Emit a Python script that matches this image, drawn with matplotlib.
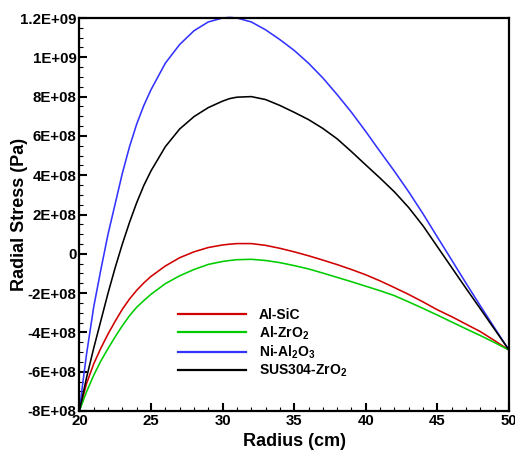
import matplotlib
matplotlib.use("Agg")
import matplotlib.pyplot as plt
from matplotlib.ticker import MultipleLocator

plt.rcParams['font.family'] = ['Liberation Sans', 'DejaVu Sans']
plt.rcParams['font.weight'] = 'bold'
plt.rcParams['mathtext.fontset'] = 'custom'
plt.rcParams['mathtext.rm'] = 'Liberation Sans:bold'
plt.rcParams['mathtext.it'] = 'Liberation Sans:bold'
plt.rcParams['mathtext.bf'] = 'Liberation Sans:bold'

# Radius (cm)
radius = [20, 20.25, 20.5, 21, 21.5, 22, 22.5, 23, 23.5, 24, 24.5, 25, 26, 27, 28, 29, 30,
          30.5, 31, 32, 33, 34, 35, 36, 37, 38, 39, 40, 41, 42, 43, 44, 45, 46, 47, 48, 49, 50]

al_sic = [-8.0e8, -7.3e8, -6.6e8, -5.6e8, -4.8e8, -4.08e8, -3.43e8, -2.82e8, -2.3e8, -1.86e8,
          -1.48e8, -1.15e8, -6.2e7, -2.0e7, 1.0e7, 3.2e7, 4.5e7, 4.9e7, 5.2e7, 5.2e7, 4.3e7,
          2.8e7, 1.0e7, -1.0e7, -3.2e7, -5.5e7, -8.0e7, -1.07e8, -1.38e8, -1.72e8, -2.07e8,
          -2.45e8, -2.85e8, -3.2e8, -3.58e8, -3.96e8, -4.42e8, -4.9e8]

al_zro2 = [-8.0e8, -7.5e8, -7.02e8, -6.18e8, -5.45e8, -4.82e8, -4.22e8, -3.66e8, -3.15e8, -2.72e8,
           -2.38e8, -2.06e8, -1.52e8, -1.12e8, -8.0e7, -5.4e7, -3.9e7, -3.4e7, -3.0e7, -2.8e7,
           -3.4e7, -4.5e7, -6.0e7, -7.7e7, -9.8e7, -1.2e8, -1.42e8, -1.65e8, -1.88e8, -2.13e8,
           -2.45e8, -2.78e8, -3.12e8, -3.47e8, -3.82e8, -4.16e8, -4.52e8, -4.9e8]

ni_al2o3 = [-8.0e8, -6.5e8, -5.1e8, -2.7e8, -8.0e7, 1.0e8, 2.55e8, 4.1e8, 5.45e8, 6.6e8,
            7.55e8, 8.35e8, 9.7e8, 1.065e9, 1.135e9, 1.18e9, 1.2e9, 1.203e9, 1.2e9, 1.18e9,
            1.14e9, 1.09e9, 1.035e9, 9.7e8, 8.95e8, 8.1e8, 7.2e8, 6.22e8, 5.2e8, 4.2e8,
            3.15e8, 2.03e8, 8.5e7, -3.2e7, -1.5e8, -2.65e8, -3.78e8, -4.9e8]

sus304_zro2 = [-8.0e8, -7.15e8, -6.3e8, -4.8e8, -3.4e8, -2.0e8, -7.0e7, 5.0e7, 1.6e8, 2.6e8,
               3.48e8, 4.22e8, 5.45e8, 6.35e8, 6.98e8, 7.44e8, 7.77e8, 7.9e8, 7.97e8, 8.0e8,
               7.85e8, 7.55e8, 7.2e8, 6.83e8, 6.38e8, 5.85e8, 5.2e8, 4.52e8, 3.85e8, 3.15e8,
               2.35e8, 1.42e8, 3.6e7, -7.0e7, -1.76e8, -2.8e8, -3.85e8, -4.9e8]

series_labels = ['Al-SiC', r'Al-ZrO$_2$', r'Ni-Al$_2$O$_3$', r'SUS304-ZrO$_2$']
series_colors = ['#d00000', '#00cc00', '#3333ff', '#000000']

xticks = [20, 25, 30, 35, 40, 45, 50]
yticks = [-8e8, -6e8, -4e8, -2e8, 0, 2e8, 4e8, 6e8, 8e8, 1e9, 1.2e9]
ytick_labels = ['-8E+08', '-6E+08', '-4E+08', '-2E+08', '0', '2E+08', '4E+08',
                '6E+08', '8E+08', '1E+09', '1.2E+09']

fig = plt.figure(figsize=(5.15, 4.54), dpi=100)
ax = fig.add_axes([79.4 / 515, 43 / 454, 429.6 / 515, 393 / 454])

for ys, lab, col in zip([al_sic, al_zro2, ni_al2o3, sus304_zro2], series_labels, series_colors):
    ax.plot(radius, ys, color=col, lw=1.15, label=lab, clip_on=False)

ax.set_xlim(20, 50)
ax.set_ylim(-8e8, 1.2e9)
ax.set_xticks(xticks)
ax.set_xticklabels([str(t) for t in xticks])
ax.set_yticks(yticks)
ax.set_yticklabels(ytick_labels)
ax.xaxis.set_minor_locator(MultipleLocator(1))
ax.yaxis.set_minor_locator(MultipleLocator(5e7))

ax.tick_params(which='major', direction='in', length=6, width=1.5, labelsize=10.8, pad=2,
               top=False, right=False)
ax.tick_params(which='minor', direction='in', length=3, width=0.8, top=False, right=False)
ax.tick_params(axis='x', which='major', pad=2.5)
for lbl in ax.get_xticklabels() + ax.get_yticklabels():
    lbl.set_fontweight('bold')

for sp in ax.spines.values():
    sp.set_linewidth(1.6)

ax.set_xlabel('Radius (cm)', fontsize=13, fontweight='bold')
ax.set_ylabel('Radial Stress (Pa)', fontsize=13, fontweight='bold')
ax.xaxis.set_label_coords(0.5, -0.055)
ax.yaxis.set_label_coords(-0.12, 0.5)

leg = ax.legend(loc='upper left', bbox_to_anchor=(0.2295, 0.262), frameon=False,
                borderpad=0, borderaxespad=0, handlelength=4.9, handletextpad=0.9,
                labelspacing=0.15, prop={'size': 10, 'weight': 'bold'})
for h in leg.get_lines():
    h.set_linewidth(1.6)

fig.savefig('out.png', dpi=100)
